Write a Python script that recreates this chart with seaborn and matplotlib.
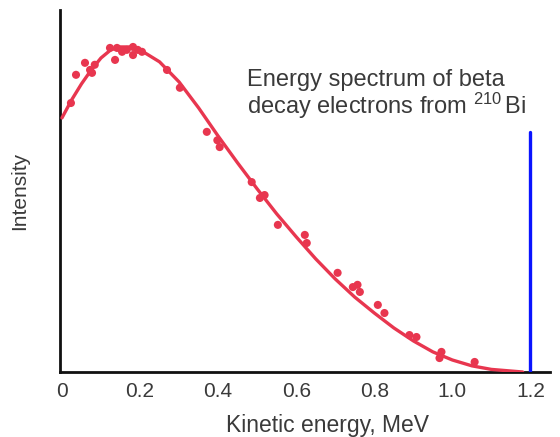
import matplotlib
matplotlib.use("Agg")
import matplotlib.pyplot as plt
import seaborn as sns
import pandas as pd

# Measured data points (kinetic energy MeV, relative intensity)
point_energy = [0.023, 0.036, 0.059, 0.072, 0.077, 0.084, 0.123, 0.136, 0.141, 0.154,
                0.166, 0.182, 0.182, 0.194, 0.205, 0.269, 0.302, 0.371, 0.404, 0.398,
                0.486, 0.519, 0.507, 0.553, 0.622, 0.627, 0.706, 0.745, 0.763, 0.757,
                0.809, 0.826, 0.890, 0.908, 0.972, 0.967, 1.057]
point_intensity = [83.0, 91.7, 95.4, 93.2, 92.3, 94.8, 100.0, 96.3, 100.0, 98.8,
                   99.4, 100.3, 97.8, 99.4, 98.8, 93.2, 87.7, 74.1, 69.4, 71.5,
                   58.6, 54.6, 53.7, 45.4, 42.3, 39.8, 30.6, 26.2, 24.7, 26.9,
                   20.7, 18.2, 11.4, 10.8, 6.2, 4.3, 3.1]

# Fitted spectrum curve
curve_energy = [0.0, 0.025, 0.05, 0.075, 0.1, 0.125, 0.15, 0.175, 0.2, 0.25, 0.3, 0.35,
                0.4, 0.45, 0.5, 0.55, 0.6, 0.65, 0.7, 0.75, 0.8, 0.85, 0.9, 0.95,
                1.0, 1.05, 1.1, 1.15, 1.18]
curve_intensity = [78.4, 84.0, 88.9, 93.2, 96.9, 99.4, 100.3, 100.3, 99.4, 95.7, 89.5, 81.5,
                   72.8, 64.5, 56.5, 48.8, 41.7, 34.9, 28.7, 23.1, 18.2, 13.6, 9.6, 6.2,
                   3.7, 1.9, 0.8, 0.3, 0.0]

# Endpoint energy marker
endpoint_energy = [1.2, 1.2]
endpoint_intensity = [0.0, 74.1]

x_ticks = [0, 0.2, 0.4, 0.6, 0.8, 1.0, 1.2]
x_tick_labels = ["0", "0.2", "0.4", "0.6", "0.8", "1.0", "1.2"]

sns.set_theme(style="white")
plt.rcParams["font.family"] = ["Liberation Sans", "DejaVu Sans"]
plt.rcParams["mathtext.fontset"] = "custom"
plt.rcParams["mathtext.rm"] = "Liberation Sans"
plt.rcParams["mathtext.it"] = "Liberation Sans"

text_color = "#3a3a3a"
red = "#e8364f"

fig = plt.figure(figsize=(5.6, 4.37), dpi=100)
ax = fig.add_axes([60 / 560, 65 / 437, (550 - 60) / 560, (372 - 10) / 437])

curve_df = pd.DataFrame({"energy": curve_energy, "intensity": curve_intensity})
points_df = pd.DataFrame({"energy": point_energy, "intensity": point_intensity})
end_df = pd.DataFrame({"energy": endpoint_energy, "intensity": endpoint_intensity})

sns.lineplot(data=curve_df, x="energy", y="intensity", ax=ax, color=red, lw=2.4,
             sort=False, estimator=None, zorder=3)
sns.scatterplot(data=points_df, x="energy", y="intensity", ax=ax, color=red, s=34,
                edgecolor="none", zorder=4)
sns.lineplot(data=end_df, x="energy", y="intensity", ax=ax, color="#0a14ff", lw=2.4,
             sort=False, estimator=None, zorder=3)

ax.set_xlim(-0.005, 1.25)
ax.set_ylim(0, 111.7)
ax.set_xticks(x_ticks)
ax.set_xticklabels(x_tick_labels)
ax.set_yticks([])
ax.tick_params(axis="x", length=0, pad=7, labelsize=15, labelcolor=text_color)

for side in ["top", "right"]:
    ax.spines[side].set_visible(False)
for side in ["left", "bottom"]:
    ax.spines[side].set_color("#111111")
    ax.spines[side].set_linewidth(2.0)

ax.set_xlabel("Kinetic energy, MeV", fontsize=16.5, color=text_color)
ax.xaxis.set_label_coords(0.545, -0.115)
ax.set_ylabel("Intensity", fontsize=15, color=text_color, labelpad=22)

ax.text(0.475, 93.6, "Energy spectrum of beta\ndecay electrons from $^{210}\\,$Bi",
        fontsize=17, color=text_color, ha="left", va="top", linespacing=1.02)

fig.savefig("out.png", dpi=100)
